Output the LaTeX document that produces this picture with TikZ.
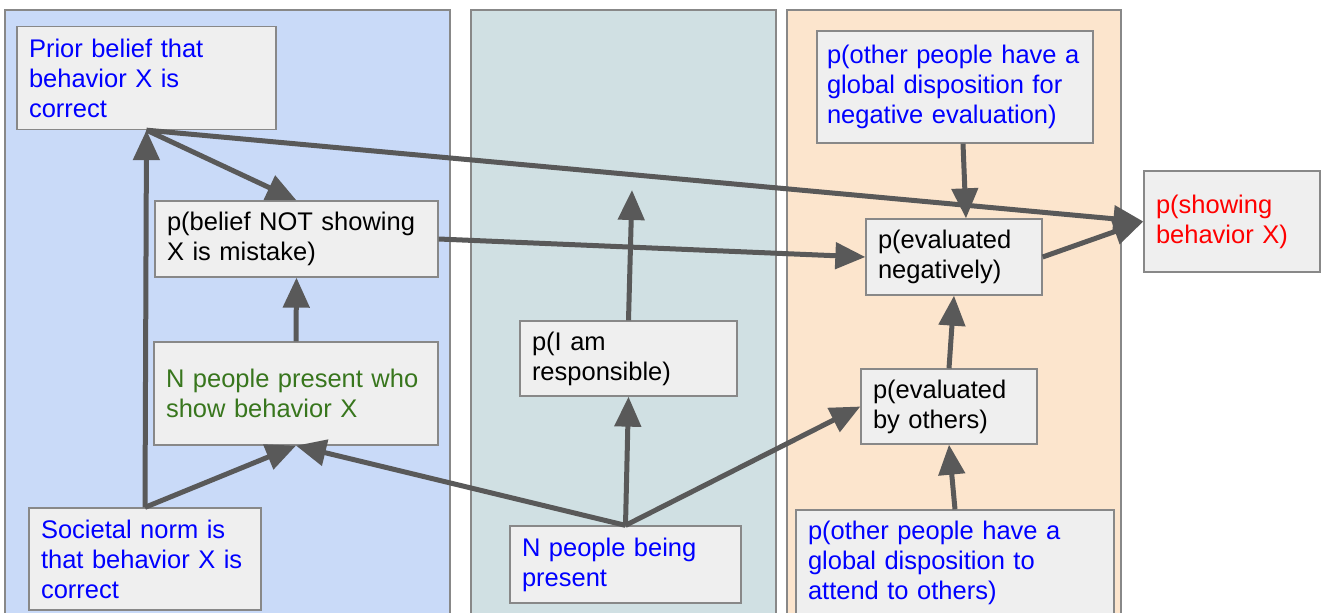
\documentclass[tikz,border=0pt]{standalone}
\usepackage{fontspec}
\setmainfont{Liberation Sans}
\usepackage{xcolor}
\usetikzlibrary{arrows.meta, positioning}

\definecolor{boxfill}{HTML}{EFEFEF}
\definecolor{boxline}{HTML}{888888}
\definecolor{linkgray}{HTML}{595959}
\definecolor{normblue}{HTML}{0000FF}
\definecolor{groupgreen}{HTML}{38761D}
\definecolor{outred}{HTML}{FF0000}
\definecolor{selfpanel}{HTML}{C9DAF8}
\definecolor{dutypanel}{HTML}{D0E0E3}
\definecolor{evalpanel}{HTML}{FCE5CD}

\begin{document}
\begin{tikzpicture}[x=1pt, y=-1pt,
    panel/.style={draw=boxline, line width=1.3pt},
    box/.style={draw=boxline, line width=1.3pt, fill=boxfill, align=left,
        inner xsep=12pt, inner ysep=0pt, font=\fontsize{25.5}{30}\selectfont},
    link/.style={draw=linkgray, line width=5pt, -{Triangle[length=30pt, width=26pt]}}]
    \useasboundingbox (0,0) rectangle (1326,613);

    % Background panels
    \draw[panel, fill=selfpanel] (5,10) rectangle (450,630);
    \draw[panel, fill=dutypanel] (471,10) rectangle (776,630);
    \draw[panel, fill=evalpanel] (787,10) rectangle (1121,630);

    % Nodes
    \node[box, text width=235pt, minimum height=103pt, text=normblue] (prior) at (146.5,78) {Prior belief that\\behavior X is\\correct};
    \node[box, text width=259pt, minimum height=76pt] (belief) at (296.5,239) {p(belief NOT showing\\X is mistake)};
    \node[box, text width=260pt, minimum height=103pt, text=groupgreen] (npresent) at (296,393.5) {N people present who\\show behavior X};
    \node[box, text width=208pt, minimum height=102pt, text=normblue] (societal) at (145,559) {Societal norm is\\that behavior X is\\correct};

    \node[box, text width=193pt, minimum height=75pt] (iam) at (628.5,358.5) {p(I am\\responsible)};
    \node[box, text width=207pt, minimum height=77pt, text=normblue] (nbeing) at (625.5,564.5) {N people being\\present};
    \coordinate (iamend) at (632,190);

    \node[box, text width=256pt, inner xsep=10pt, minimum height=112pt, text=normblue] (otherneg) at (955,87) {p(other people have a\\global disposition for\\negative evaluation)};
    \node[box, text width=152pt, minimum height=76pt] (evalneg) at (954,257) {p(evaluated\\negatively)};
    \node[box, text width=152pt, minimum height=75pt] (evalby) at (949,406.5) {p(evaluated\\by others)};
    \node[box, text width=294pt, minimum height=106pt, text=normblue] (otherattend) at (955,563) {p(other people have a\\global disposition to\\attend to others)};

    \node[box, text width=152pt, minimum height=101pt, text=outred] (showing) at (1232,221.5) {p(showing\\behavior X)};

    % Draw connections
    \draw[link] (societal.north) -- (prior.south);
    \draw[link] (prior.south) -- (belief.north);
    \draw[link] (prior.south) -- (showing.west);
    \draw[link] (belief.east) -- (evalneg.west);
    \draw[link] (npresent.north) -- (belief.south);
    \draw[link] (societal.north) -- (npresent.south);
    \draw[link] (nbeing.north) -- (npresent.south);
    \draw[link] (nbeing.north) -- (iam.south);
    \draw[link] (iam.north) -- (iamend);
    \draw[link] (nbeing.north) -- (evalby.west);
    \draw[link] ([xshift=8pt]otherneg.south) -- ([xshift=12pt]evalneg.north);
    \draw[link] (evalby.north) -- (evalneg.south);
    \draw[link] (otherattend.north) -- (evalby.south);
    \draw[link] (evalneg.east) -- (showing.west);
\end{tikzpicture}
\end{document}
